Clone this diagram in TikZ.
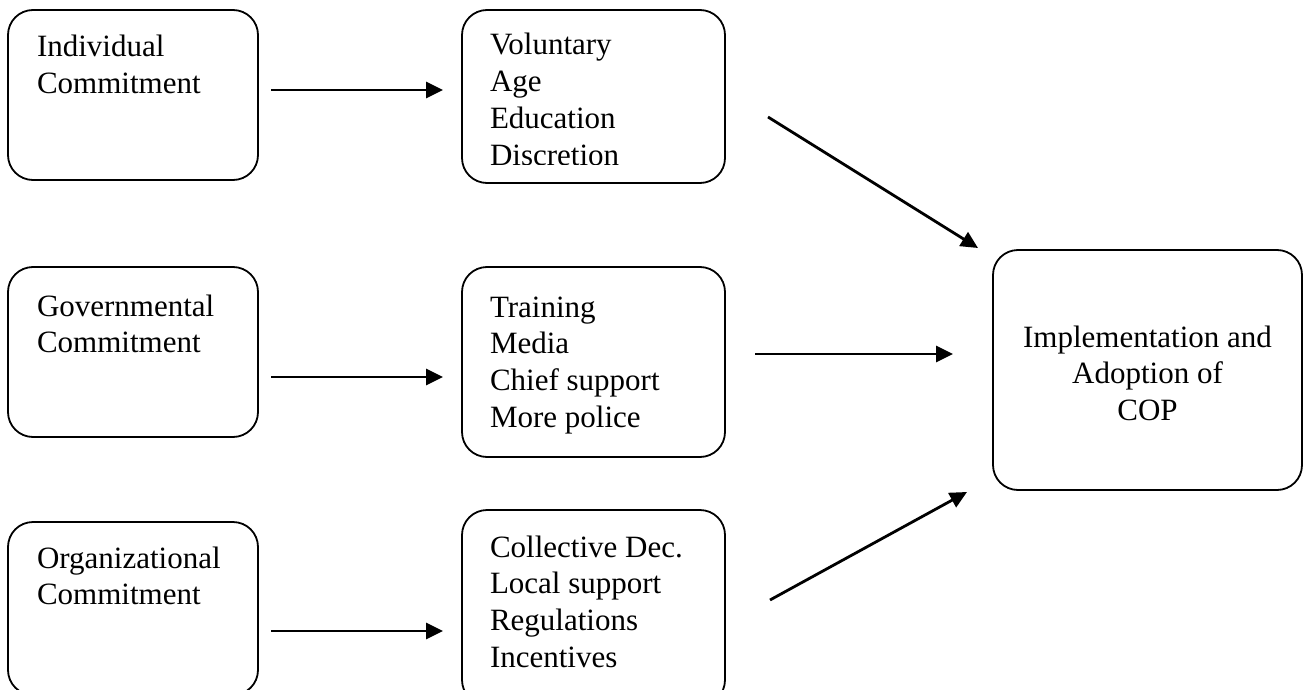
\documentclass[tikz,border=0pt]{standalone}
\usepackage{fontspec}
\setmainfont{Liberation Serif}
\usetikzlibrary{arrows.meta}

\newcommand{\firstline}{\rule{0pt}{24pt}}

\begin{document}
\begin{tikzpicture}[x=1pt,y=-1pt,
  box/.style={draw,line width=1.8pt,rounded corners=25pt,inner sep=0pt,outer sep=0pt},
  txt/.style={inner sep=0pt,outer sep=0pt,anchor=north west,align=left,
              font=\fontsize{31}{36.8}\selectfont},
  ctxt/.style={txt,anchor=north,align=center},
  flow/.style={line width=2.8pt,-{Triangle[length=17pt,width=16pt]}}]

\useasboundingbox (0,0) rectangle (1309,690);

% boxes
\node[box,minimum width=250pt,minimum height=170pt] (ind) at (133,95) {};
\node[box,minimum width=263pt,minimum height=173pt] (vol) at (593.5,96.5) {};
\node[box,minimum width=250pt,minimum height=170pt] (gov) at (133,352) {};
\node[box,minimum width=263pt,minimum height=190pt] (tra) at (593.5,362) {};
\node[box,minimum width=250pt,minimum height=173pt] (org) at (133,608.5) {};
\node[box,minimum width=263pt,minimum height=195pt] (col) at (593.5,607.5) {};
\node[box,minimum width=309pt,minimum height=240pt] (cop) at (1147.5,370) {};

% texts
\node[txt] (indt) at (37,57-24) {\firstline Individual\\Commitment};
\begin{scope}
  % the last line of this box is cut off at its baseline
  \clip (470,20) rectangle (720,164.5);
  \node[txt] (volt) at (490,55-24) {\firstline Voluntary\\Age\\Education\\Discretion};
\end{scope}
\node[txt] (govt) at (37,316-24) {\firstline Governmental\\Commitment};
\node[txt] (trat) at (490,317-24) {\firstline Training\\Media\\Chief support\\More police};
\node[txt] (orgt) at (37,568-24) {\firstline Organizational\\Commitment};
\node[txt] (colt) at (490,557-24) {\firstline Collective Dec.\\Local support\\Regulations\\Incentives};
\node[ctxt] (copt) at (1147.5,347-24) {\firstline Implementation and\\Adoption of\\COP};

% connector end points
\coordinate (a1s) at (271,90);   \coordinate (a1e) at (443,90);
\coordinate (a2s) at (271,377);  \coordinate (a2e) at (443,377);
\coordinate (a3s) at (271,631);  \coordinate (a3e) at (443,631);
\coordinate (d1s) at (768,117);  \coordinate (d1e) at (978,248);
\coordinate (m2s) at (755,354);  \coordinate (m2e) at (953,354);
\coordinate (d3s) at (770,600);  \coordinate (d3e) at (967,492);

% arrows
\draw[flow] (a1s) -- (a1e);
\draw[flow] (a2s) -- (a2e);
\draw[flow] (a3s) -- (a3e);
\draw[flow] (d1s) -- (d1e);
\draw[flow] (m2s) -- (m2e);
\draw[flow] (d3s) -- (d3e);

\end{tikzpicture}
\end{document}
